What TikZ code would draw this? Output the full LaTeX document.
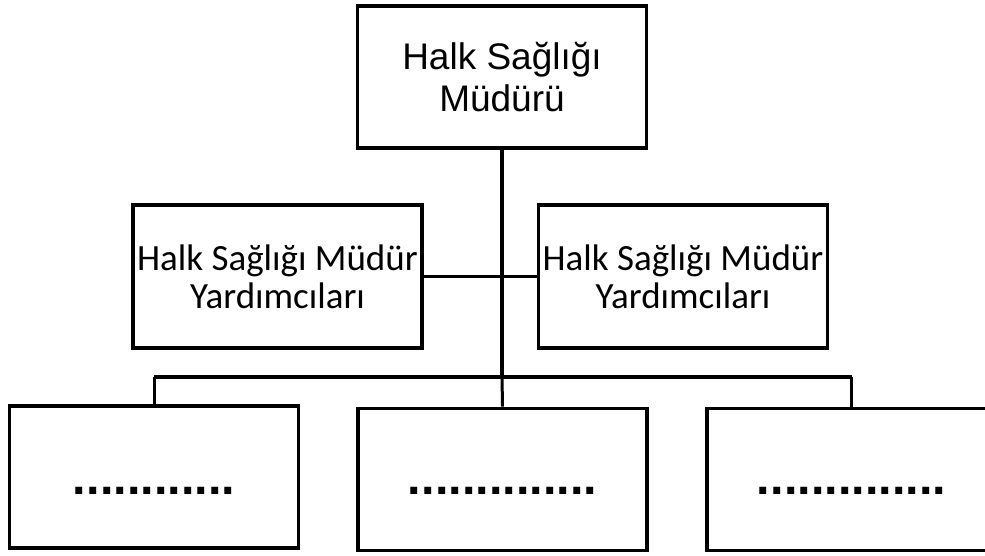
\documentclass[tikz,border=0pt]{standalone}
\usepackage{fontspec}
\setmainfont{Liberation Sans}
\newfontfamily\calfont{Carlito}
\begin{document}
\begin{tikzpicture}[x=1pt,y=-1pt,
  box/.style={draw=black, line width=3.6pt, fill=white, minimum width=289pt, inner sep=0pt, align=center},
  topbox/.style={box, minimum height=142pt, font=\fontsize{37}{42}\selectfont},
  sidebox/.style={box, minimum height=143pt, font=\calfont\fontsize{37}{38}\selectfont},
  botbox/.style={box, minimum height=142pt},
  dots/.style={inner sep=0pt, font=\bfseries\fontsize{48.6}{50}\selectfont},
  trunk/.style={line width=4.6pt},
  link/.style={line width=3.4pt},
  drop/.style={line width=3pt}]
\path[use as bounding box, clip] (0,0) rectangle (985,556);
\fill[white] (0,0) rectangle (985,556);
\coordinate (bus) at (502,377);
\node[topbox] (top) at (502,77) {Halk Sağlığı\\Müdürü};
\node[sidebox] (sl) at (277.5,276.5) {Halk Sağlığı Müdür\\Yardımcıları};
\node[sidebox] (sr) at (683,276.5) {Halk Sağlığı Müdür\\Yardımcıları};
\node[botbox] (b1) at (154,477) {};
\node[botbox] (b2) at (502.5,479.5) {};
\node[botbox] (b3) at (851.5,479.5) {};
\draw[trunk] (top.south) -- (bus);
\draw[link] (sl.east) -- (sr.west);
\draw[link] (b1.north |- bus) -- (b3.north |- bus);
\draw[drop] (b1.north) -- (b1.north |- bus);
\draw[drop] (b2.north) -- (bus);
\draw[drop] (b3.north) -- (b3.north |- bus);
\node[dots] (d1) at (154,491) {............};
\node[dots] (d2) at (502.5,491) {..............};
\node[dots] (d3) at (851.5,491) {..............};
\end{tikzpicture}
\end{document}
